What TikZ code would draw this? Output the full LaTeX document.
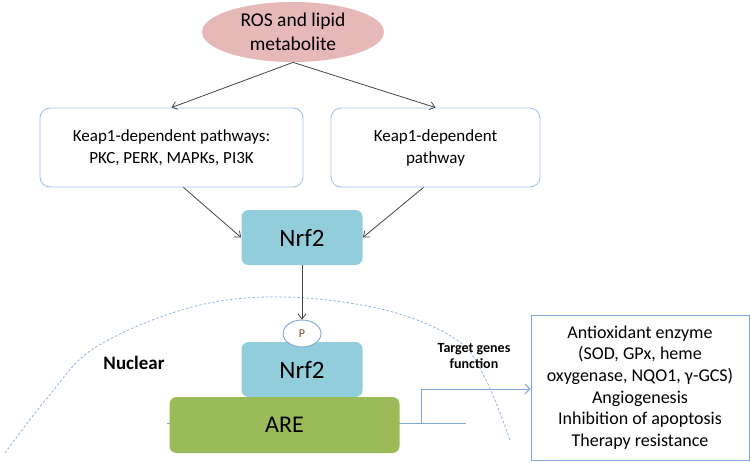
\documentclass[tikz,border=0pt]{standalone}
\usepackage{fontspec}
\setmainfont{Carlito}
\usetikzlibrary{shapes.geometric,arrows.meta}

\definecolor{rospink}{RGB}{230,185,184}
\definecolor{nrfblue}{RGB}{146,205,220}
\definecolor{aregreen}{RGB}{155,187,89}
\definecolor{boxline}{RGB}{165,194,235}
\definecolor{linkblue}{RGB}{126,166,214}
\definecolor{arrowgray}{RGB}{70,70,70}
\definecolor{pbrown}{RGB}{120,80,30}

\tikzset{every picture/.style={line width=0.75pt}}
\tikzset{
  pathbox/.style={draw=boxline, line width=0.9pt, rounded corners=10pt, fill=white,
    minimum width=263pt, minimum height=79pt, align=center, font=\fontsize{17}{22}\selectfont},
  nrfbox/.style={fill=nrfblue, rounded corners=7pt, minimum width=121pt, minimum height=55pt,
    font=\fontsize{25}{28}\selectfont},
  grayarrow/.style={draw=arrowgray, line width=0.8pt, -{Straight Barb[length=5pt,width=8pt]}},
  bluelink/.style={draw=linkblue, line width=0.9pt}
}

\begin{document}
\begin{tikzpicture}[x=1pt,y=1pt,yscale=-1,xscale=1]
\useasboundingbox (0,0) rectangle (750,463);

%Nuclear membrane (dashed)
\draw [linkblue!85, line width=0.8pt, dash pattern=on 2.5pt off 2pt] plot[smooth, tension=0.6] coordinates {(5,453) (48,397) (96,347) (192,307) (284,297) (385,310) (457,340) (486,380) (510,440)};

%Shape: Ellipse
\node [ellipse, fill=rospink, minimum width=182pt, minimum height=60pt, inner sep=0pt, align=center,
  font=\fontsize{19.5}{24}\selectfont] (ros) at (293,32) {ROS and lipid\\metabolite};

%Shape: Rounded boxes
\node [pathbox] (keapmulti) at (171.5,147.5) {Keap1-dependent pathways:\\PKC, PERK, MAPKs, PI3K};
\node [pathbox, minimum width=209pt] (keapone) at (435.5,147.5) {Keap1-dependent\\pathway};

%Nrf2 in cytoplasm and nucleus
\node [nrfbox] (nrfout) at (302,237.5) {Nrf2};
\node [nrfbox] (nrfin) at (302,369.5) {Nrf2};

%Line behind ARE
\coordinate (areleft) at (167,423);
\coordinate (tgend) at (466,423);
\coordinate (fork) at (421,423);
\draw [bluelink] (areleft) -- (tgend);

%Shape: ARE
\node [fill=aregreen, rounded corners=7pt, minimum width=230pt, minimum height=56pt,
  font=\fontsize{24}{27}\selectfont] (are) at (284.5,425) {ARE};

%Phosphate
\node [ellipse, draw=linkblue, line width=0.9pt, fill=white, minimum width=38pt, minimum height=27pt,
  inner sep=0pt, text=pbrown, font=\fontsize{12}{14}\selectfont] (phos) at (302,333.5) {P};

%Labels
\node [font=\bfseries\fontsize{19}{22}\selectfont] (nuclear) at (134,363) {Nuclear};
\node [align=center, font=\bfseries\fontsize{14}{16}\selectfont] (target) at (474,356) {Target genes\\function};

%Target genes box
\node [draw=linkblue, line width=1pt, minimum width=218pt, minimum height=145pt, align=center,
  font=\fontsize{18}{21.6}\selectfont] (genes) at (640,387.5)
  {\raisebox{-2pt}{}Antioxidant enzyme\\(SOD, GPx, heme\\oxygenase, NQO1, γ-GCS)\\Angiogenesis\\Inhibition of apoptosis\\Therapy resistance};

%Arrows
\draw [grayarrow] (ros.south) -- (keapmulti.north);
\draw [grayarrow] (ros.south) -- (keapone.north);
\draw [grayarrow] ([xshift=12pt]keapmulti.south) -- (nrfout.west);
\draw [grayarrow] ([xshift=-12pt]keapone.south) -- (nrfout.east);
\draw [grayarrow] (nrfout.south) -- (phos.north);
\draw [bluelink, -{Straight Barb[length=5pt,width=10pt]}] (fork) |- ([yshift=1.5pt]genes.west);
\end{tikzpicture}
\end{document}
